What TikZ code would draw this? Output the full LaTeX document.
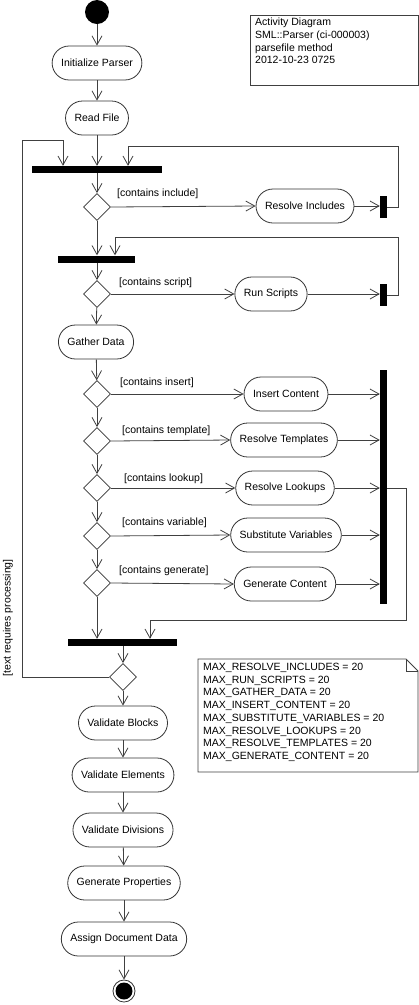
\documentclass[tikz,border=0pt]{standalone}
\usepackage{fontspec}
\setmainfont{Liberation Sans}
\usetikzlibrary{arrows.meta,shapes.geometric}
\begin{document}
\begin{tikzpicture}[x=1pt,y=-1pt,
  font=\fontsize{10.5}{12.7}\selectfont,
  act/.style={draw=black!80, line width=0.8pt, rounded corners=17pt, minimum height=34pt, inner xsep=9pt, fill=white},
  dec/.style={draw=black!80, line width=0.8pt, diamond, minimum width=27pt, minimum height=27pt, inner sep=0pt, fill=white},
  hbar/.style={fill=black, inner sep=0pt, minimum height=7pt},
  vbar/.style={fill=black, inner sep=0pt, minimum width=7pt},
  flow/.style={draw=black!75, line width=0.8pt, -{Straight Barb[length=9pt,width=10pt]}},
  wire/.style={draw=black!75, line width=0.8pt},
  guard/.style={anchor=west, inner sep=0pt},
  notebox/.style={draw=black!75, line width=0.8pt},
]
\useasboundingbox (0,0) rectangle (419,1005);

% start
\node[circle, fill=black, inner sep=0pt, minimum size=24pt] (start) at (97,12) {};

% activities
\node[act] (init) at (97,63) {Initialize Parser};
\node[act] (read) at (97,118) {Read File};
\node[hbar, minimum width=130pt] (bar1) at (97,169.5) {};
\node[dec] (d1) at (97,207) {};
\node[act] (ri) at (305,206) {Resolve Includes};
\node[vbar, minimum height=22pt] (sb1) at (383.5,207) {};
\node[hbar, minimum width=77pt] (bar2) at (96.5,259) {};
\node[dec] (d2) at (97,294) {};
\node[act] (rs) at (271,294) {Run Scripts};
\node[vbar, minimum height=22pt] (sb2) at (383.5,295) {};
\node[act] (gather) at (96,342) {Gather Data};
\node[dec] (d3) at (97,394) {};
\node[act] (ic) at (286,394) {Insert Content};
\node[vbar, minimum height=234pt] (big) at (383.5,487) {};
\node[dec] (d4) at (97,441) {};
\node[act] (rt) at (284,440) {Resolve Templates};
\node[dec] (d5) at (97,488) {};
\node[act] (rl) at (285,488) {Resolve Lookups};
\node[dec] (d6) at (97,536) {};
\node[act] (sv) at (286,535) {Substitute Variables};
\node[dec] (d7) at (97,583) {};
\node[act] (gc) at (285,584) {Generate Content};
\node[hbar, minimum width=109pt] (bar3) at (122.5,642.5) {};
\node[dec] (d8) at (123,677) {};
\node[act] (vb) at (123,723) {Validate Blocks};
\node[act] (ve) at (123,775) {Validate Elements};
\node[act] (vd) at (123,830) {Validate Divisions};
\node[act] (gp) at (124,883) {Generate Properties};
\node[act] (ad) at (124,939) {Assign Document Data};
\node[circle, draw=black!80, line width=0.8pt, inner sep=0pt, minimum size=22pt] (end) at (124,991) {};
\node[circle, fill=black, inner sep=0pt, minimum size=17pt] (endin) at (end) {};

% loop corner coordinates
\coordinate (la) at (22,140);
\coordinate (lb) at (63,140);
\coordinate (ra) at (398,146);
\coordinate (rb) at (128,146);
\coordinate (sa) at (398,237);
\coordinate (sbb) at (115,237);
\coordinate (ba) at (406,620);
\coordinate (bb) at (150,620);

% main flow
\draw[flow] (start) -- (init);
\draw[flow] (init) -- (read);
\draw[flow] (read) -- (read |- bar1.north);
\draw[flow] (bar1.south -| d1) -- (d1);
\draw[flow] (d1.east) -- (ri.west);
\draw[flow] (ri.east) -- (sb1.west |- ri.east);
\draw[flow] (sb1.east) -- (sb1.east -| ra) -- (ra) -- (rb) -- (rb |- bar1.north);
\draw[flow] (d1.south) -- (d1.south |- bar2.north);
\draw[flow] (sb2.east) -- (sb2.east -| sa) -- (sa) -- (sbb) -- (sbb |- bar2.north);
\draw[flow] (bar2.south -| d2) -- (d2);
\draw[flow] (d2.east) -- (rs.west);
\draw[flow] (rs.east) -- (sb2.west |- rs.east);
\draw[flow] (d2) -- (gather);
\draw[flow] (gather) -- (d3);
\draw[flow] (d3.east) -- (ic.west);
\draw[flow] (ic.east) -- (big.west |- ic.east);
\draw[flow] (d3) -- (d4);
\draw[flow] (d4.east) -- (rt.west);
\draw[flow] (rt.east) -- (big.west |- rt.east);
\draw[flow] (d4) -- (d5);
\draw[flow] (d5.east) -- (rl.west);
\draw[flow] (rl.east) -- (big.west |- rl.east);
\draw[flow] (d5) -- (d6);
\draw[flow] (d6.east) -- (sv.west);
\draw[flow] (sv.east) -- (big.west |- sv.east);
\draw[flow] (d6) -- (d7);
\draw[flow] (d7.east) -- (gc.west);
\draw[flow] (gc.east) -- (big.west |- gc.east);
\draw[flow] (d7.south) -- (d7.south |- bar3.north);
\draw[flow] (big.east |- rl.east) -- (ba |- rl.east) -- (ba) -- (bb) -- (bb |- bar3.north);
\draw[flow] (bar3.south -| d8) -- (d8);
\draw[flow] (d8.west) -- (d8.west -| la) -- (la) -- (lb) -- (lb |- bar1.north);
\draw[flow] (d8) -- (vb);
\draw[flow] (vb) -- (ve);
\draw[flow] (ve) -- (vd);
\draw[flow] (vd) -- (gp);
\draw[flow] (gp) -- (ad);
\draw[flow] (ad) -- (end);

% guards
\node[guard] (g1) at (117,194) {[contains include]};
\node[guard] (g2) at (119,283) {[contains script]};
\node[guard] (g3) at (120,383) {[contains insert]};
\node[guard] (g4) at (122,431) {[contains template]};
\node[guard] (g5) at (124,479) {[contains lookup]};
\node[guard] (g6) at (122,523) {[contains variable]};
\node[guard] (g7) at (119,571) {[contains generate]};
\node[rotate=90, inner sep=0pt] (g8) at (8,618) {[text requires processing]};

% notes
\node[notebox, anchor=north west, minimum width=168pt, minimum height=70pt, inner sep=0pt] (n1) at (250,15) {};
\node[anchor=north west, align=left, inner sep=0pt] (n1t) at (255,18) {Activity Diagram\\SML::Parser (ci-000003)\\parsefile method\\2012-10-23 0725};
\draw[notebox, fill=white] (198,659) -- (406,659) -- (418,671) -- (418,772) -- (198,772) -- cycle;
\draw[notebox] (406,659) -- (406,671) -- (418,671);
\node[anchor=north west, align=left, inner sep=0pt] (n2t) at (203,663) {MAX\_RESOLVE\_INCLUDES = 20\\MAX\_RUN\_SCRIPTS = 20\\MAX\_GATHER\_DATA = 20\\MAX\_INSERT\_CONTENT = 20\\MAX\_SUBSTITUTE\_VARIABLES = 20\\MAX\_RESOLVE\_LOOKUPS = 20\\MAX\_RESOLVE\_TEMPLATES = 20\\MAX\_GENERATE\_CONTENT = 20};
\end{tikzpicture}
\end{document}
